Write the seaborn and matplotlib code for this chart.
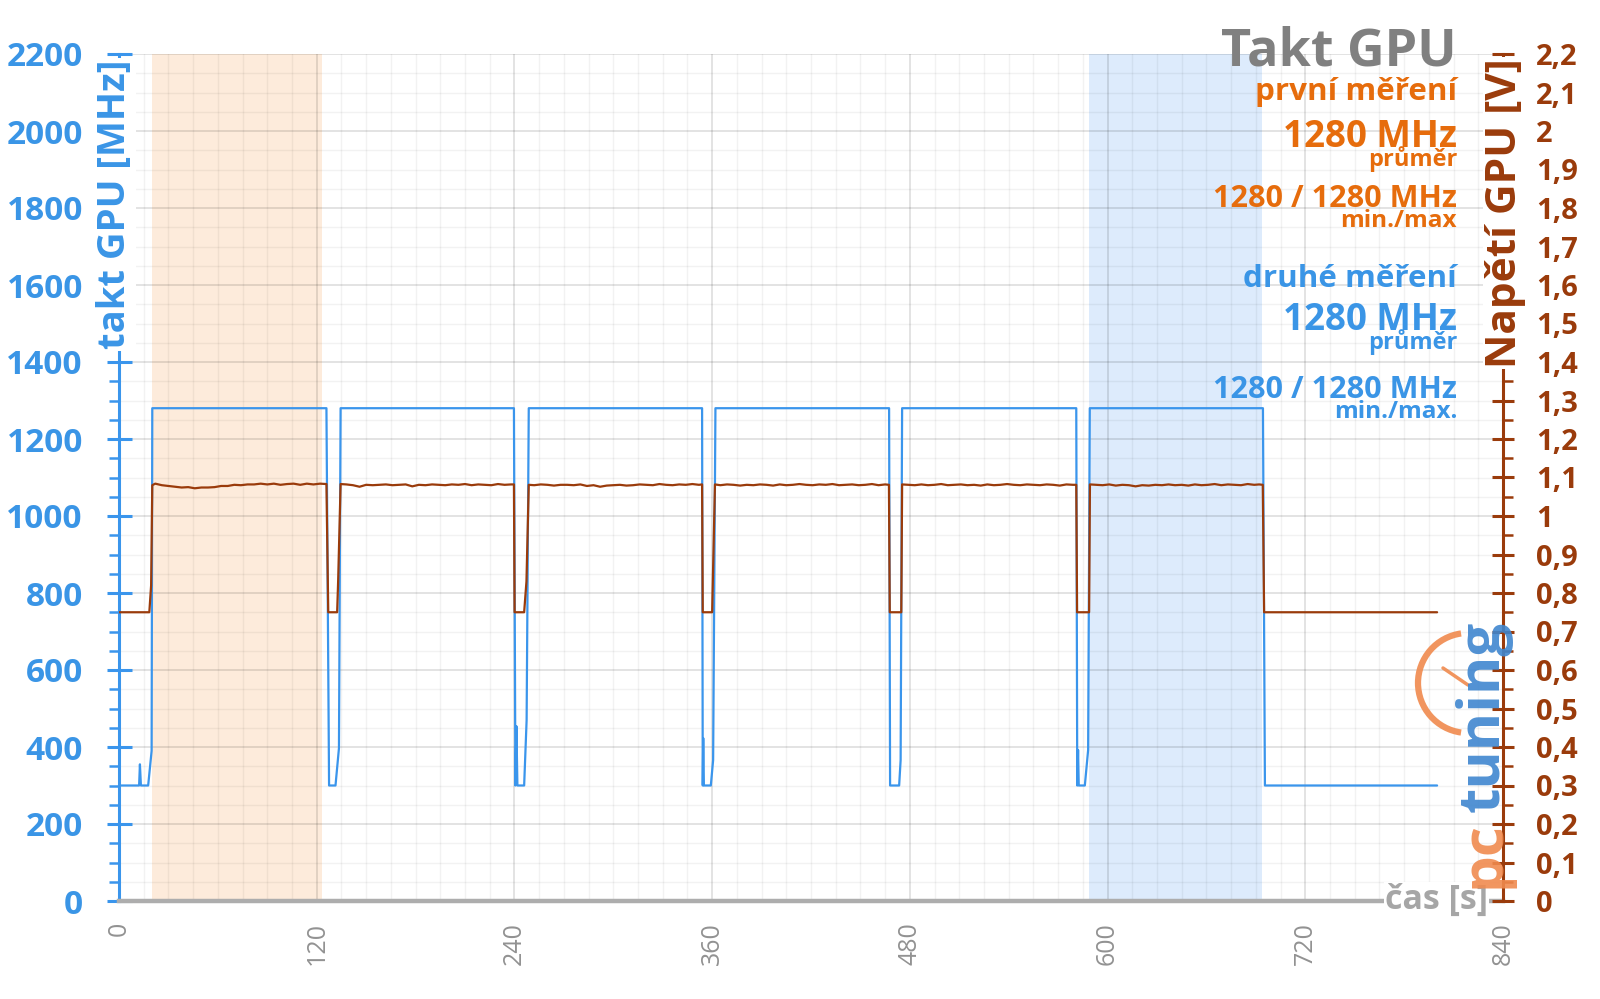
import matplotlib
matplotlib.use("Agg")
import matplotlib.pyplot as plt
from matplotlib.ticker import MultipleLocator
from matplotlib.patches import Arc
from matplotlib.lines import Line2D
import pandas as pd
import seaborn as sns

# ---------------- data ----------------
clock_t = [0, 12.2, 12.7, 13.3, 17.7, 19.8, 20.2,
           125.9, 127.5, 131.4, 133.5, 134.5,
           239.7, 240.6, 241.2, 241.8, 245.9, 247.4, 248.7,
           353.9, 354.3, 354.6, 355.0, 359.2, 360.6, 362.0,
           467.4, 468.0, 473.5, 474.4, 475.3,
           581.0, 581.6, 582.1, 582.5, 586.2, 588.2, 589.2,
           694.3, 695.5, 800]
clock_mhz = [300, 300, 355, 300, 300, 390, 1280,
             1280, 300, 300, 397, 1280,
             1280, 300, 454, 300, 300, 470, 1280,
             1280, 300, 423, 300, 300, 366, 1280,
             1280, 300, 300, 366, 1280,
             1280, 300, 392, 300, 300, 392, 1280,
             1280, 300, 300]

volt_t = [0, 18.4, 19.5, 20.2,
          22, 26, 30, 34, 38, 42, 46, 50, 54, 58, 62, 66, 70, 74, 78, 82, 86, 90, 94, 98,
          102, 106, 110, 114, 118, 122, 125.9,
          127.0, 132.4, 133.0, 134.5,
          138, 142, 146, 150, 154, 158, 162, 166, 170, 174, 178, 182, 186, 190, 194, 198,
          202, 206, 210, 214, 218, 222, 226, 230, 234, 238, 239.7,
          240.1, 245.9, 247.3, 248.7,
          252, 256, 260, 264, 268, 272, 276, 280, 284, 288, 292, 296, 300, 304, 308, 312,
          316, 320, 324, 328, 332, 336, 340, 344, 348, 352, 353.9,
          354.3, 360.0, 361.7,
          365, 369, 373, 377, 381, 385, 389, 393, 397, 401, 405, 409, 413, 417, 421, 425,
          429, 433, 437, 441, 445, 449, 453, 457, 461, 465, 467.3,
          467.8, 474.8, 475.3,
          479, 483, 487, 491, 495, 499, 503, 507, 511, 515, 519, 523, 527, 531, 535, 539,
          543, 547, 551, 555, 559, 563, 567, 571, 575, 579, 581.0,
          581.5, 588.8, 589.3,
          593, 597, 601, 605, 609, 613, 617, 621, 625, 629, 633, 637, 641, 645, 649, 653,
          657, 661, 665, 669, 673, 677, 681, 685, 689, 692, 694.2,
          695.0, 800]
volt_v = [0.75, 0.75, 0.82, 1.080,
          1.084, 1.080, 1.078, 1.076, 1.074, 1.075, 1.072, 1.074, 1.074, 1.075, 1.078, 1.078,
          1.081, 1.080, 1.082, 1.082, 1.084, 1.082, 1.084, 1.081,
          1.083, 1.084, 1.081, 1.084, 1.082, 1.084, 1.083,
          0.75, 0.75, 0.83, 1.083,
          1.082, 1.080, 1.076, 1.081, 1.080, 1.081, 1.082, 1.080, 1.081, 1.082, 1.077, 1.081,
          1.080, 1.082, 1.081, 1.080,
          1.082, 1.081, 1.083, 1.080, 1.082, 1.081, 1.080, 1.083, 1.081, 1.082, 1.082,
          0.75, 0.75, 0.83, 1.081,
          1.080, 1.082, 1.081, 1.079, 1.081, 1.081, 1.080, 1.082, 1.078, 1.080, 1.076, 1.079,
          1.080, 1.081, 1.079, 1.080,
          1.082, 1.081, 1.080, 1.083, 1.081, 1.080, 1.082, 1.081, 1.083, 1.081, 1.082,
          0.75, 0.75, 1.082,
          1.080, 1.082, 1.081, 1.079, 1.081, 1.080, 1.082, 1.081, 1.079, 1.082, 1.080, 1.081,
          1.083, 1.081, 1.080, 1.082,
          1.081, 1.083, 1.080, 1.081, 1.082, 1.080, 1.081, 1.083, 1.080, 1.082, 1.081,
          0.75, 0.75, 1.082,
          1.081, 1.080, 1.082, 1.080, 1.081, 1.083, 1.080, 1.081, 1.082, 1.080, 1.081, 1.079,
          1.082, 1.080, 1.081, 1.083,
          1.081, 1.080, 1.082, 1.081, 1.080, 1.082, 1.081, 1.079, 1.082, 1.081, 1.081,
          0.75, 0.75, 1.082,
          1.081, 1.080, 1.082, 1.079, 1.081, 1.080, 1.077, 1.080, 1.079, 1.081, 1.080, 1.082,
          1.080, 1.081, 1.079, 1.082,
          1.080, 1.081, 1.083, 1.080, 1.082, 1.081, 1.080, 1.083, 1.081, 1.082, 1.081,
          0.75, 0.75]

x_ticks = [0, 120, 240, 360, 480, 600, 720, 840]
mhz_ticks = [0, 200, 400, 600, 800, 1000, 1200, 1400, 1600, 1800, 2000, 2200]
volt_ticks = [0, 0.1, 0.2, 0.3, 0.4, 0.5, 0.6, 0.7, 0.8, 0.9, 1.0, 1.1,
              1.2, 1.3, 1.4, 1.5, 1.6, 1.7, 1.8, 1.9, 2.0, 2.1, 2.2]
volt_labels = ["0", "0,1", "0,2", "0,3", "0,4", "0,5", "0,6", "0,7", "0,8", "0,9", "1", "1,1",
               "1,2", "1,3", "1,4", "1,5", "1,6", "1,7", "1,8", "1,9", "2", "2,1", "2,2"]
band_first = (20, 123.5)
band_second = (589, 693.5)

title = "Takt GPU"
first_lines = ["první měření", "1280 MHz", "průměr", "1280 / 1280 MHz", "min./max"]
second_lines = ["druhé měření", "1280 MHz", "průměr", "1280 / 1280 MHz", "min./max."]

# ---------------- style ----------------
BLUE = "#3A95EC"
BLUE_TXT = "#3A95E6"
BROWN = "#9A3B0B"
ORANGE = "#E66C0C"
GRAY_T = "#808080"
AXGRAY = "#ADADAD"

sns.set_theme(style="white")
plt.rcParams["font.family"] = ["Open Sans", "DejaVu Sans"]

W, H = 1600, 999
fig = plt.figure(figsize=(16, 9.99), dpi=100)
x0, x1, y0, y1 = 119, 1503, 901, 54
ax = fig.add_axes([x0 / W, 1 - y0 / H, (x1 - x0) / W, (y0 - y1) / H])

df_clock = pd.DataFrame({"t": clock_t, "mhz": clock_mhz})
df_volt = pd.DataFrame({"t": volt_t, "v": volt_v})

ax.axvspan(*band_first, color="#FDEBDB", zorder=0.1, lw=0)
ax.axvspan(*band_second, color="#DDEBFC", zorder=0.1, lw=0)

sns.lineplot(data=df_clock, x="t", y="mhz", ax=ax, color=BLUE, lw=1.6,
             estimator=None, sort=False, zorder=3)

ax.set_xlim(0, 840)
ax.set_ylim(0, 2200)
ax.set_xlabel("")
ax.set_ylabel("")
ax.set_axisbelow(True)

ax.set_xticks(x_ticks)
ax.set_xticklabels([str(v) for v in x_ticks], rotation=90, color="#929292", fontsize=18)
ax.xaxis.set_minor_locator(MultipleLocator(15))
ax.set_yticks(mhz_ticks)
ax.set_yticklabels([str(v) for v in mhz_ticks], fontweight="bold", fontsize=24, color=BLUE_TXT)
ax.yaxis.set_minor_locator(MultipleLocator(50))

ax.grid(which="major", color="black", alpha=0.12, lw=1.3)
ax.grid(which="minor", color="black", alpha=0.05, lw=1.0)

ax.tick_params(axis="x", which="major", direction="out", length=9, width=2.5, color=AXGRAY, pad=6)
ax.tick_params(axis="x", which="minor", length=0)
ax.tick_params(axis="y", which="major", direction="inout", length=18, width=2.2, color=BLUE, pad=17)
ax.tick_params(axis="y", which="minor", direction="out", length=7, width=1.8, color=BLUE)

for s in ["top", "right"]:
    ax.spines[s].set_visible(False)
ax.spines["left"].set_color(BLUE)
ax.spines["left"].set_linewidth(2.2)
ax.spines["bottom"].set_color(AXGRAY)
ax.spines["bottom"].set_linewidth(3.2)

ax2 = ax.twinx()
sns.lineplot(data=df_volt, x="t", y="v", ax=ax2, color=BROWN, lw=1.6,
             estimator=None, sort=False, zorder=3)
ax2.set_ylim(0, 2.2)
ax2.set_ylabel("")
ax2.set_yticks(volt_ticks)
ax2.set_yticklabels(volt_labels, fontweight="bold", fontsize=21, color=BROWN)
ax2.yaxis.set_minor_locator(MultipleLocator(0.05))
ax2.tick_params(axis="y", which="major", direction="inout", length=16, width=2.2, color=BROWN, pad=16)
ax2.tick_params(axis="y", which="minor", direction="out", length=7, width=1.8, color=BROWN)
for s in ["top", "left", "bottom"]:
    ax2.spines[s].set_visible(False)
ax2.spines["right"].set_color(BROWN)
ax2.spines["right"].set_linewidth(2.2)
ax2.grid(False)

# ---------------- texts ----------------
def fx(px):
    return px / W

def fy(py):
    return 1 - py / H

fig.text(fx(115), fy(60), "takt GPU [MHz]", rotation=90, ha="center", va="top",
         fontsize=27.5, fontweight="bold", color=BLUE_TXT,
         bbox=dict(facecolor="white", edgecolor="none", pad=1))
fig.text(fx(1505), fy(58), "Napětí GPU [V]", rotation=90, ha="center", va="top",
         fontsize=30.5, fontweight="bold", color=BROWN,
         bbox=dict(facecolor="white", edgecolor="none", pad=1))
fig.text(fx(1488), fy(900), "čas [s]", ha="right", va="center",
         fontsize=24.5, fontweight="bold", color="#A6A6A6",
         bbox=dict(facecolor="white", edgecolor="none", pad=1))

RX = fx(1457)
fig.text(RX, fy(65), title, ha="right", va="baseline", fontsize=37.5,
         fontweight="bold", color=GRAY_T)

sizes = [22.6, 26.5, 17, 22.1, 17.5]
base_first = [100, 147, 166, 207, 227]
base_second = [287, 330, 349, 398, 418]
for txt, sz, b in zip(first_lines, sizes, base_first):
    fig.text(RX, fy(b), txt, ha="right", va="baseline", fontsize=sz,
             fontweight="bold", color=ORANGE)
for txt, sz, b in zip(second_lines, sizes, base_second):
    fig.text(RX, fy(b), txt, ha="right", va="baseline", fontsize=sz,
             fontweight="bold", color=BLUE_TXT)

# logo
LOGO_O = "#F08A4E"
LOGO_B = "#3F86CF"
fig.text(fx(1484), fy(888), "pc", rotation=90, ha="center", va="bottom",
         fontsize=42, fontweight="bold", color=LOGO_O, alpha=0.9)
fig.text(fx(1484), fy(812), "tuning", rotation=90, ha="center", va="bottom",
         fontsize=42, fontweight="bold", color=LOGO_B, alpha=0.9)
arc = Arc((fx(1468), fy(683)), 100 / W, 100 / H, theta1=95, theta2=265,
          transform=fig.transFigure, color=LOGO_O, lw=4.5, alpha=0.9)
fig.add_artist(arc)
fig.add_artist(Line2D([fx(1443), fx(1468)], [fy(668), fy(685)],
                      transform=fig.transFigure, color=LOGO_O, lw=2.5, alpha=0.9))

fig.savefig("out.png", dpi=100, facecolor="white")
